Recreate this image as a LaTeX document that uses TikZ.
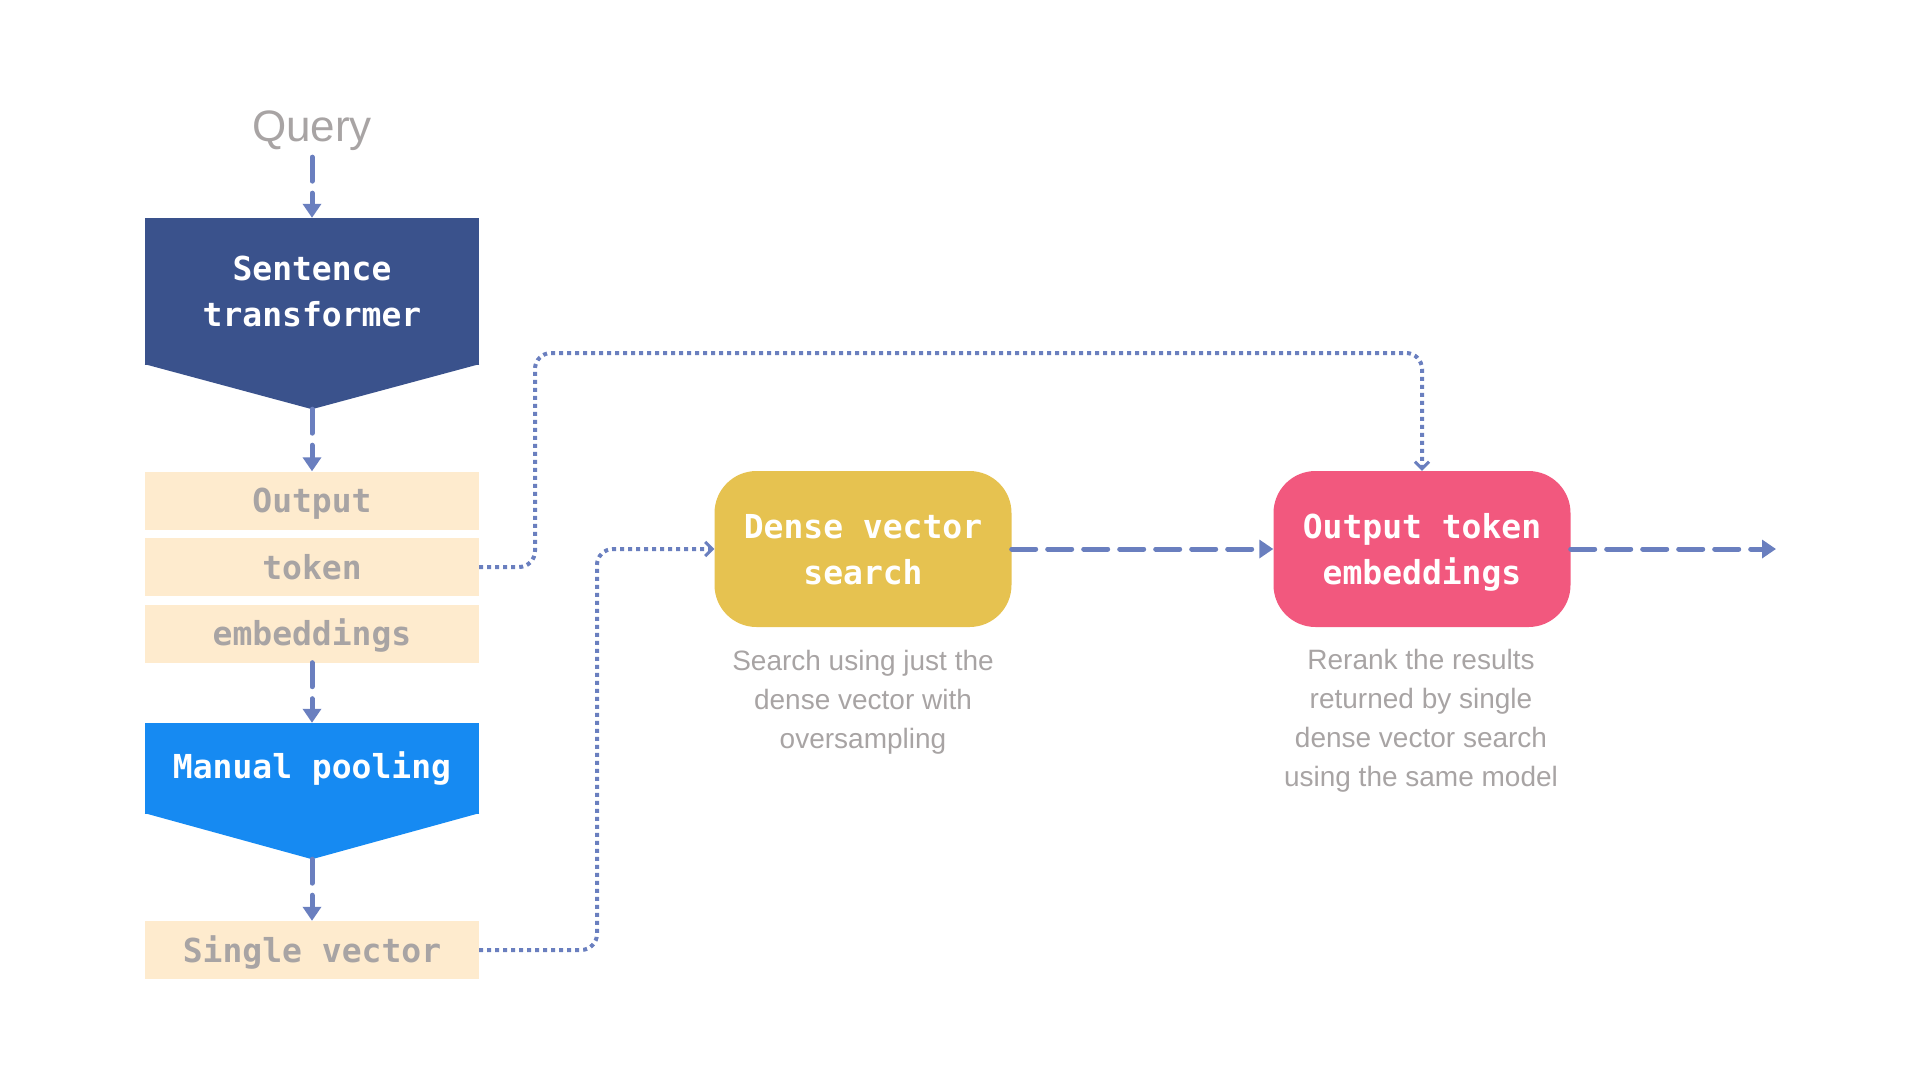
\documentclass[tikz,border=0pt]{standalone}
\usepackage{fontspec}
\setmainfont{Liberation Sans}
\setmonofont{DejaVu Sans Mono}
\usetikzlibrary{arrows.meta,calc}

\definecolor{linkblue}{HTML}{6A7FBF}
\definecolor{navy}{HTML}{3A528C}
\definecolor{brightblue}{HTML}{168AF2}
\definecolor{cream}{HTML}{FEEBCE}
\definecolor{greytext}{HTML}{A8A4A4}
\definecolor{mustard}{HTML}{E6C250}
\definecolor{rose}{HTML}{F2587E}

\begin{document}
\begin{tikzpicture}[x=1pt,y=-1pt,
	title/.style={font=\fontsize{33}{46}\selectfont\ttfamily\bfseries, align=center},
	chevron/.style={title, text=white, minimum width=334pt, inner sep=0pt},
	strip/.style={title, text=greytext, fill=cream, minimum width=334pt, minimum height=58pt,
		inner sep=0pt, text height=24pt, text depth=0pt},
	pill/.style={title, text=white, rounded corners=42pt, minimum width=297pt, minimum height=156pt,
		inner sep=0pt, text depth=0pt},
	caption/.style={font=\fontsize{28}{39}\selectfont, text=greytext, align=center},
	flow/.style={linkblue, line width=5pt, line cap=round, dash pattern=on 24pt off 12pt,
		-{Triangle[length=14pt,width=18pt]}},
	link/.style={linkblue, line width=4pt, dash pattern=on 4pt off 4pt, rounded corners=16pt,
		-{Straight Barb[length=7pt,width=14pt,line width=3pt]}}]

\useasboundingbox (0,0) rectangle (1920,1080);

\node [font=\fontsize{44}{50}\selectfont, text=greytext, inner sep=6pt] (query) at (312,131) {Query};

\node [chevron, fill=navy, minimum height=147pt] (encoder) at (312,291.5) {Sentence\\transformer};
\fill [navy] ($(encoder.south west)+(0,-1)$) -- ($(encoder.south east)+(0,-1)$)
-- ($(encoder.south)+(0,44)$) coordinate (encoder tip) -- cycle;

\foreach \word [count=\i] in {Output,token,embeddings} {
	\node [strip] (row\i) at (312,434+66.5*\i) {\word};
}

\node [chevron, fill=brightblue, minimum height=91pt] (pool) at (312,768.5) {Manual pooling};
\fill [brightblue] ($(pool.south west)+(0,-1)$) -- ($(pool.south east)+(0,-1)$)
-- ($(pool.south)+(0,45)$) coordinate (pool tip) -- cycle;

\node [strip] (single) at (312,950) {Single vector};

\node [pill, fill=mustard] (dense) at (863,549) {Dense vector\\search};
\node [pill, fill=rose] (rerank) at (1422,549) {Output token\\embeddings};

\node [caption] (dense note) at (863,702) {Search using just the\\dense vector with\\oversampling};
\node [caption] (rerank note) at (1421,721) {Rerank the results\\returned by single\\dense vector search\\using the same model};

\coordinate (exit) at (1776,549);
\coordinate (upper bend) at (535,353);
\coordinate (lower bend) at (597,549);

\draw [flow] (query) -- (encoder);
\draw [flow] (encoder tip) -- (row1);
\draw [flow] (row3) -- (pool);
\draw [flow] (pool tip) -- (single);
\draw [flow] (dense) -- (rerank);
\draw [flow] (rerank) -- (exit);

\draw [link] (row2.east) -| (upper bend) -| (rerank.north);
\draw [link] (single.east) -| (lower bend) -- (dense.west);

\end{tikzpicture}
\end{document}
